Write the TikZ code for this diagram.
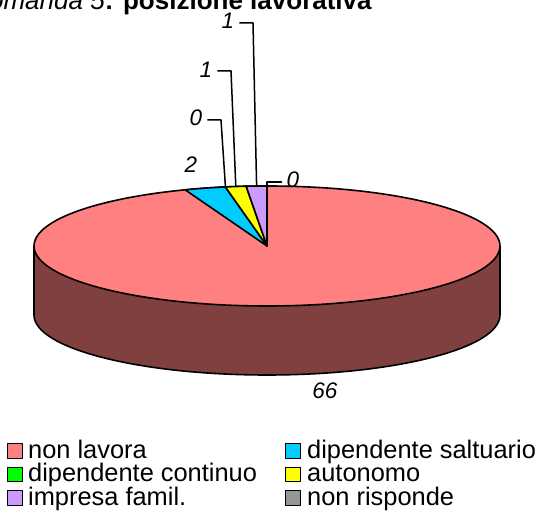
\documentclass[tikz,border=0pt]{standalone}
\usepackage{fontspec}
\setmainfont{Liberation Sans}
\usetikzlibrary{calc}
\definecolor{pieRed}{HTML}{FF8080}
\definecolor{sideRed}{HTML}{804040}
\definecolor{pieBlue}{HTML}{00CCFF}
\definecolor{pieGreen}{HTML}{00FF00}
\definecolor{pieYellow}{HTML}{FFFF00}
\definecolor{piePurple}{HTML}{CC99FF}
\definecolor{pieGray}{HTML}{969696}
\begin{document}
\begin{tikzpicture}[x=1pt,y=1pt,line join=round,
  outl/.style={draw=black,line width=1.6pt},
  lbl/.style={font=\fontsize{22.5}{22.5}\selectfont\itshape,inner sep=0pt},
  lead/.style={draw=black,line width=1.5pt},
  legsq/.style={draw=black,line width=1.4pt,minimum size=14.5pt,inner sep=0pt},
  legtx/.style={font=\fontsize{25.4}{25.4}\selectfont,inner sep=0pt,anchor=base west}]
\useasboundingbox (0,0) rectangle (541,513);
% title
\node[inner sep=0pt,anchor=base east,font=\fontsize{26}{26}\selectfont] (title) at (372,503)
  {\textit{domanda 5}\textbf{: posizione lavorativa}};
% pie
\coordinate (C) at (267,267);
\fill[sideRed] (34,267) -- (34,198) arc[start angle=180,end angle=360,x radius=233,y radius=60] -- (500,267) -- cycle;
\draw[outl] (34,267) -- (34,198) arc[start angle=180,end angle=360,x radius=233,y radius=60] -- (500,267);
\filldraw[fill=pieRed,outl] (C) ellipse[x radius=233,y radius=60];
\filldraw[fill=pieBlue,outl] (C) -- ++(110.57:233 and 60) arc[start angle=110.57,end angle=100.29,x radius=233,y radius=60] -- cycle;
\filldraw[fill=pieYellow,outl] (C) -- ++(100.29:233 and 60) arc[start angle=100.29,end angle=95.14,x radius=233,y radius=60] -- cycle;
\filldraw[fill=piePurple,outl] (C) -- ++(95.14:233 and 60) arc[start angle=95.14,end angle=90,x radius=233,y radius=60] -- cycle;
% leader end points on the rim
\coordinate (eGreen) at (225.4,326.5);
\coordinate (eYellow) at (235.8,326.8);
\coordinate (ePurple) at (256.6,327);
\coordinate (eGray) at (267,327);
% labels
\node[lbl] (l66) at (325,122) {66};
\node[lbl] (l2) at (191,348) {2};
\node[lbl] (l0a) at (196,395) {0};
\node[lbl] (l1a) at (206,443) {1};
\node[lbl] (l1b) at (228,492) {1};
\node[lbl] (l0b) at (293,333) {0};
\draw[lead] ([xshift=5pt]l0a.east |- 0,393) -- (221,393) -- (eGreen);
\draw[lead] ([xshift=5pt]l1a.east |- 0,442) -- (231,442) -- (eYellow);
\draw[lead] ([xshift=5pt]l1b.east |- 0,490) -- (253,490) -- (ePurple);
\draw[lead] (eGray) -- (267,331) -- ([xshift=-5pt]l0b.west |- 0,331);
% legend
\node[legsq,fill=pieRed] (s1) at (15,62) {};
\node[legsq,fill=pieGreen] (s2) at (15,38.5) {};
\node[legsq,fill=piePurple] (s3) at (15,15) {};
\node[legsq,fill=pieBlue] (s4) at (293,62) {};
\node[legsq,fill=pieYellow] (s5) at (293,38.5) {};
\node[legsq,fill=pieGray] (s6) at (293,15) {};
\node[legtx] (t1) at (28,54.5) {non lavora};
\node[legtx] (t2) at (28,31) {dipendente continuo};
\node[legtx] (t3) at (28,7.5) {impresa famil.};
\node[legtx] (t4) at (307,54.5) {dipendente saltuario};
\node[legtx] (t5) at (307,31) {autonomo};
\node[legtx] (t6) at (307,7.5) {non risponde};
\end{tikzpicture}
\end{document}
